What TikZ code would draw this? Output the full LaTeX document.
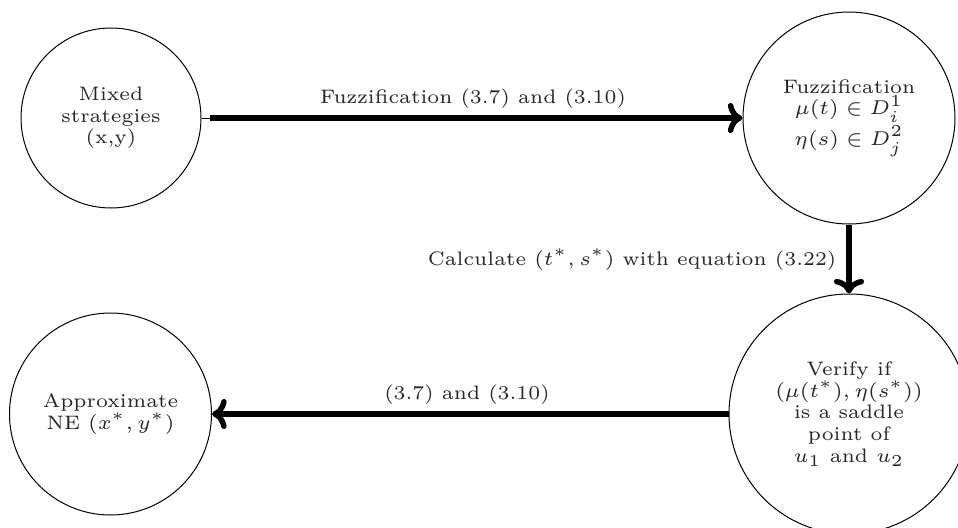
\documentclass[tikz,border=0pt]{standalone}
\usetikzlibrary{arrows.meta}
\begin{document}
\begin{tikzpicture}[x=0.3pt,y=-0.3pt,
  every node/.style={font=\fontsize{5.85}{6.5}\selectfont, text=black!85},
  state/.style={circle, draw, line width=0.3pt, inner sep=0pt, align=center},
  flow/.style={line width=1.65pt, -{To[length=4.4pt,width=9pt]}},
  lbl/.style={inner sep=0pt}]
\useasboundingbox (0,0) rectangle (958,528);
\clip (0,0) rectangle (958,528);
\node[state, minimum size=180*0.3pt] (mix) at (111,118) {Mixed\\strategies\\(x,y)};
\node[state, minimum size=212*0.3pt] (fuz) at (849,118) {Fuzzification\\$\mu(t)\in D^1_i$\\$\eta(s)\in D^2_j$};
\node[state, minimum size=240*0.3pt] (ver) at (849,414) {Verify if\\$(\mu(t^*),\eta(s^*))$\\is a saddle\\point of\\$u_1$ and $u_2$};
\node[state, minimum size=202*0.3pt] (app) at (110.5,414) {Approximate\\NE $(x^*,y^*)$};
\coordinate (s1) at (210,118);
\draw[line width=0.3pt] (mix.east) -- (s1);
\draw[flow] (s1) -- (fuz.west);
\draw[flow] (fuz.south) -- (ver.north);
\draw[flow] (ver.west) -- (app.east);
\node[lbl, anchor=base] (l1) at (473,103) {Fuzzification (3.7) and (3.10)};
\node[lbl, anchor=base] (l2) at (467,399) {(3.7) and (3.10)};
\node[lbl, anchor=base east] (l3) at (837,265) {Calculate $(t^*,s^*)$ with equation (3.22)};
\end{tikzpicture}
\end{document}
